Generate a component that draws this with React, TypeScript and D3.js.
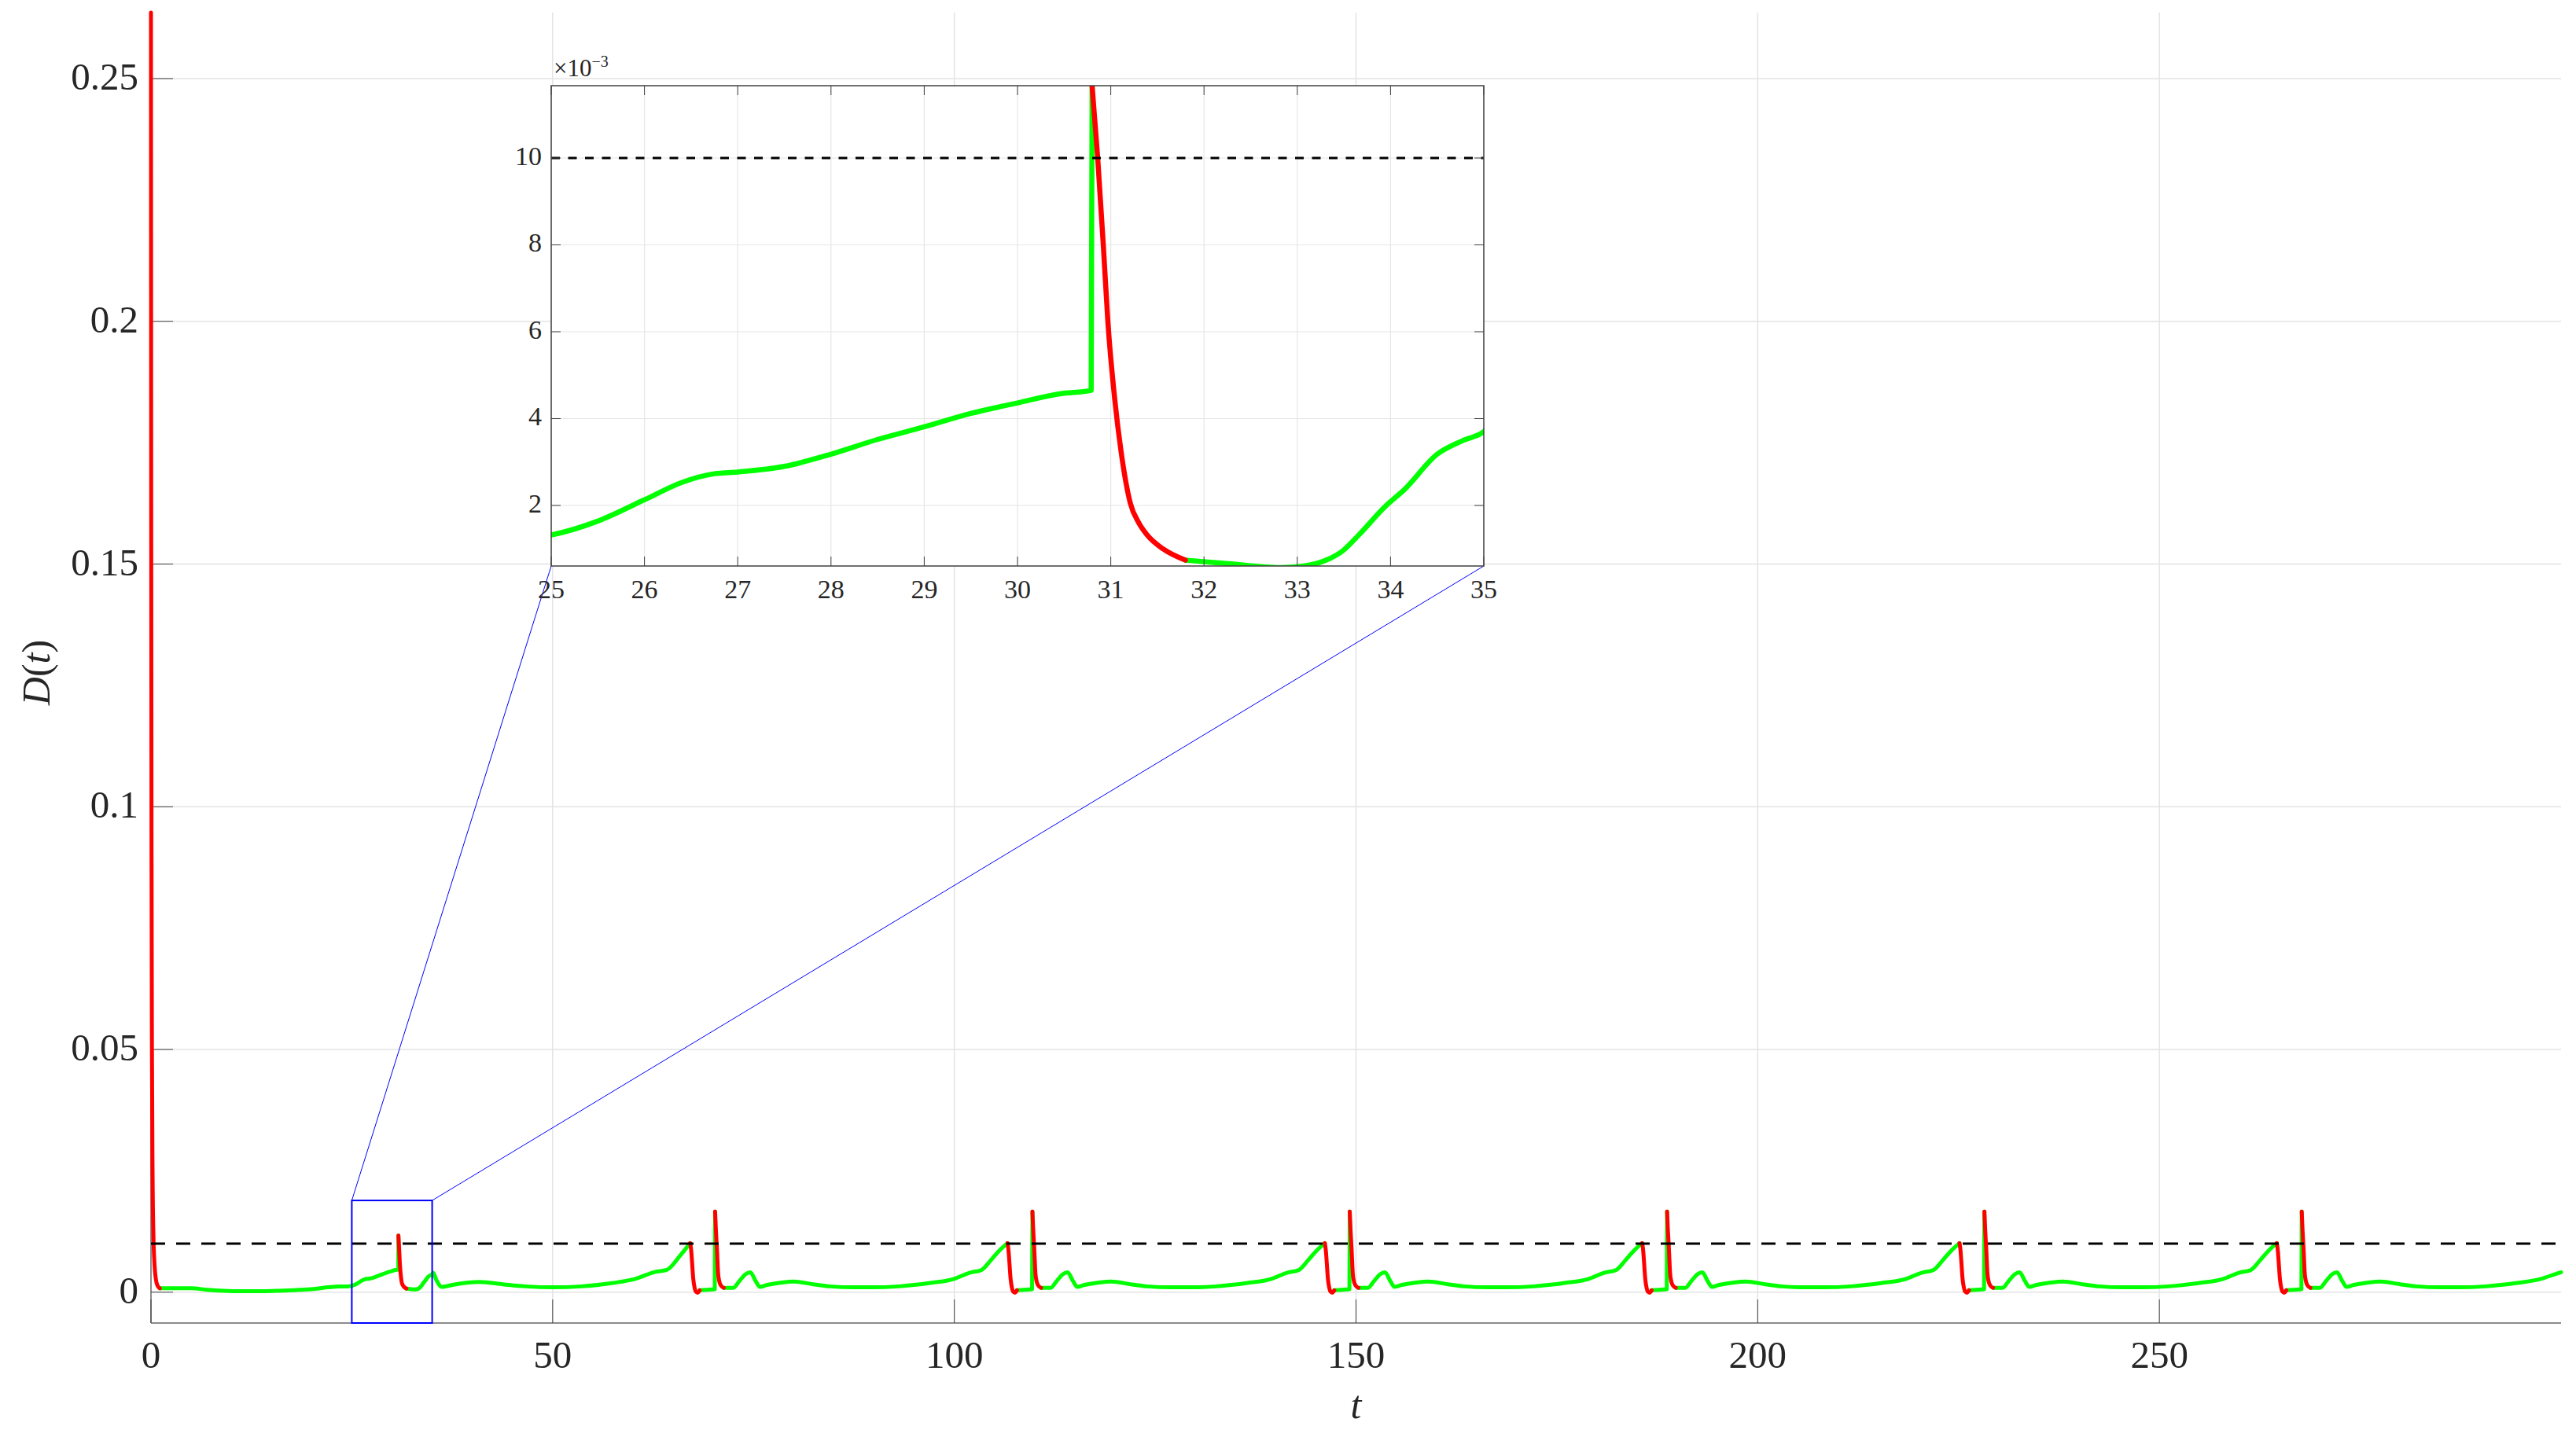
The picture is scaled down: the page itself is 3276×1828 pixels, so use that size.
import React from "react";
import * as d3 from "d3";

type Pt = [number, number];

// axis setup
const mainXDomain = [0, 300];
const mainYDomain = [-0.00635, 0.2636];
const mainXTicks = [0, 50, 100, 150, 200, 250];
const mainYTicks = [0, 0.05, 0.1, 0.15, 0.2, 0.25];
const mainYTickLabels = ["0", "0.05", "0.1", "0.15", "0.2", "0.25"];

const zoomWindow = [25, 35];
const zoomBoxTop = 0.0189;
const insetYDomain = [0.000606, 0.011665];
const insetXTicks = [25, 26, 27, 28, 29, 30, 31, 32, 33, 34, 35];
const insetYTicks = [0.002, 0.004, 0.006, 0.008, 0.01];
const insetYTickLabels = ["2", "4", "6", "8", "10"];

const threshold = 0.01;

// red = decay phases, green = the rest
const redSegments: Pt[][] = [
  [[0, 0.2636], [0.03, 0.16], [0.07, 0.09], [0.12, 0.05], [0.2, 0.024], [0.3, 0.012], [0.45, 0.0055], [0.6, 0.0028], [0.8, 0.0014], [1.1, 0.0008]],
  [[30.8, 0.01166], [30.86, 0.01], [30.92, 0.008], [30.97, 0.0062], [31.04, 0.0045], [31.11, 0.00325], [31.21, 0.00205], [31.3, 0.0016], [31.39, 0.00132], [31.56, 0.001], [31.8, 0.00074]],
  [[67.12, 0.0101], [67.25, 0.0085], [67.34, 0.0065], [67.5, 0.0028], [67.67, 0.0009], [67.83, 0.0001], [68.05, -0.0001], [68.3, 0.0004]],
  [[70.22, 0.0166], [70.33, 0.0125], [70.44, 0.0092], [70.6, 0.0038], [70.75, 0.0022], [70.9, 0.0015], [71.1, 0.0011], [71.3, 0.0009]],
  [[106.62, 0.0101], [106.75, 0.0085], [106.84, 0.0065], [107.0, 0.0028], [107.17, 0.0009], [107.33, 0.0001], [107.55, -0.0001], [107.8, 0.0004]],
  [[109.72, 0.0166], [109.83, 0.0125], [109.94, 0.0092], [110.1, 0.0038], [110.25, 0.0022], [110.4, 0.0015], [110.6, 0.0011], [110.8, 0.0009]],
  [[146.12, 0.0101], [146.25, 0.0085], [146.34, 0.0065], [146.5, 0.0028], [146.67, 0.0009], [146.83, 0.0001], [147.05, -0.0001], [147.3, 0.0004]],
  [[149.22, 0.0166], [149.33, 0.0125], [149.44, 0.0092], [149.6, 0.0038], [149.75, 0.0022], [149.9, 0.0015], [150.1, 0.0011], [150.3, 0.0009]],
  [[185.62, 0.0101], [185.75, 0.0085], [185.84, 0.0065], [186.0, 0.0028], [186.17, 0.0009], [186.33, 0.0001], [186.55, -0.0001], [186.8, 0.0004]],
  [[188.72, 0.0166], [188.83, 0.0125], [188.94, 0.0092], [189.1, 0.0038], [189.25, 0.0022], [189.4, 0.0015], [189.6, 0.0011], [189.8, 0.0009]],
  [[225.12, 0.0101], [225.25, 0.0085], [225.34, 0.0065], [225.5, 0.0028], [225.67, 0.0009], [225.83, 0.0001], [226.05, -0.0001], [226.3, 0.0004]],
  [[228.22, 0.0166], [228.33, 0.0125], [228.44, 0.0092], [228.6, 0.0038], [228.75, 0.0022], [228.9, 0.0015], [229.1, 0.0011], [229.3, 0.0009]],
  [[264.62, 0.0101], [264.75, 0.0085], [264.84, 0.0065], [265.0, 0.0028], [265.17, 0.0009], [265.33, 0.0001], [265.55, -0.0001], [265.8, 0.0004]],
  [[267.72, 0.0166], [267.83, 0.0125], [267.94, 0.0092], [268.1, 0.0038], [268.25, 0.0022], [268.4, 0.0015], [268.6, 0.0011], [268.8, 0.0009]],
];

const greenSegments: Pt[][] = [
  [[1.1, 0.0008], [3, 0.0008], [5, 0.0008], [7, 0.0005], [9, 0.0003], [11, 0.0002], [14, 0.0002], [16, 0.0003], [18.5, 0.0005], [20.5, 0.0007], [22, 0.001], [23.5, 0.0012], [24.5, 0.0012], [25, 0.00132], [25.5, 0.00164], [26, 0.00213], [26.4, 0.00253], [26.75, 0.00273], [27, 0.00277], [27.5, 0.0029], [28, 0.00318], [28.5, 0.00352], [29, 0.00381], [29.5, 0.00412], [30, 0.00436], [30.45, 0.00457], [30.79, 0.00465], [30.8, 0.01166]],
  [[31.8, 0.00074], [32.26, 0.00066], [32.82, 0.00057], [33.05, 0.0006], [33.31, 0.00074], [33.49, 0.00096], [33.66, 0.00132], [33.94, 0.00197], [34.15, 0.00237], [34.5, 0.00318], [34.78, 0.0035], [35.0, 0.0037], [35.13, 0.004], [35.5, 0.0026], [36.2, 0.0011], [37.8, 0.0016], [40.9, 0.0021], [43.9, 0.0016], [46.6, 0.0012], [50.1, 0.001], [53.6, 0.0012], [57.5, 0.0019], [60.2, 0.0027], [62.8, 0.0042], [64.2, 0.0046], [65.9, 0.0076], [67.12, 0.0101]],
  [[68.3, 0.0004], [69.2, 0.0005], [70.18, 0.0006], [70.22, 0.0166]],
  [[71.3, 0.0009], [72.5, 0.0009], [73.2, 0.0022], [74.0, 0.0037], [74.6, 0.0041], [75.3, 0.0022], [75.8, 0.0011], [76.7, 0.0015], [78.5, 0.002], [80.0, 0.0022], [82.6, 0.0016], [84.5, 0.0012], [87.5, 0.001], [89.8, 0.001], [93.1, 0.0012], [97.0, 0.0019], [99.9, 0.0027], [101.9, 0.004], [103.4, 0.0046], [104.5, 0.0065], [105.5, 0.0084], [106.62, 0.0101]],
  [[107.8, 0.0004], [108.7, 0.0005], [109.68, 0.0006], [109.72, 0.0166]],
  [[110.8, 0.0009], [112.0, 0.0009], [112.7, 0.0022], [113.5, 0.0037], [114.1, 0.0041], [114.8, 0.0022], [115.3, 0.0011], [116.2, 0.0015], [118.0, 0.002], [119.5, 0.0022], [122.1, 0.0016], [124.0, 0.0012], [127.0, 0.001], [129.3, 0.001], [132.6, 0.0012], [136.5, 0.0019], [139.4, 0.0027], [141.4, 0.004], [142.9, 0.0046], [144.0, 0.0065], [145.0, 0.0084], [146.12, 0.0101]],
  [[147.3, 0.0004], [148.2, 0.0005], [149.18, 0.0006], [149.22, 0.0166]],
  [[150.3, 0.0009], [151.5, 0.0009], [152.2, 0.0022], [153.0, 0.0037], [153.6, 0.0041], [154.3, 0.0022], [154.8, 0.0011], [155.7, 0.0015], [157.5, 0.002], [159.0, 0.0022], [161.6, 0.0016], [163.5, 0.0012], [166.5, 0.001], [168.8, 0.001], [172.1, 0.0012], [176.0, 0.0019], [178.9, 0.0027], [180.9, 0.004], [182.4, 0.0046], [183.5, 0.0065], [184.5, 0.0084], [185.62, 0.0101]],
  [[186.8, 0.0004], [187.7, 0.0005], [188.68, 0.0006], [188.72, 0.0166]],
  [[189.8, 0.0009], [191.0, 0.0009], [191.7, 0.0022], [192.5, 0.0037], [193.1, 0.0041], [193.8, 0.0022], [194.3, 0.0011], [195.2, 0.0015], [197.0, 0.002], [198.5, 0.0022], [201.1, 0.0016], [203.0, 0.0012], [206.0, 0.001], [208.3, 0.001], [211.6, 0.0012], [215.5, 0.0019], [218.4, 0.0027], [220.4, 0.004], [221.9, 0.0046], [223.0, 0.0065], [224.0, 0.0084], [225.12, 0.0101]],
  [[226.3, 0.0004], [227.2, 0.0005], [228.18, 0.0006], [228.22, 0.0166]],
  [[229.3, 0.0009], [230.5, 0.0009], [231.2, 0.0022], [232.0, 0.0037], [232.6, 0.0041], [233.3, 0.0022], [233.8, 0.0011], [234.7, 0.0015], [236.5, 0.002], [238.0, 0.0022], [240.6, 0.0016], [242.5, 0.0012], [245.5, 0.001], [247.8, 0.001], [251.1, 0.0012], [255.0, 0.0019], [257.9, 0.0027], [259.9, 0.004], [261.4, 0.0046], [262.5, 0.0065], [263.5, 0.0084], [264.62, 0.0101]],
  [[265.8, 0.0004], [266.7, 0.0005], [267.68, 0.0006], [267.72, 0.0166]],
  [[268.8, 0.0009], [270.0, 0.0009], [270.7, 0.0022], [271.5, 0.0037], [272.1, 0.0041], [272.8, 0.0022], [273.3, 0.0011], [274.2, 0.0015], [276.0, 0.002], [277.5, 0.0022], [280.1, 0.0016], [282.0, 0.0012], [285.0, 0.001], [287.3, 0.001], [290.6, 0.0012], [294.5, 0.0019], [297.4, 0.0027], [299.4, 0.0038], [300, 0.0041]],
];

const FONT = "'Liberation Serif', 'Times New Roman', serif";
const GREEN = "#00ff00";
const RED = "#ff0000";
const BLUE = "#0000ff";
const TXT = "#262626";

export default function App() {
  const W = 3276;
  const H = 1828;
  const m = { left: 192, right: 3257, top: 16, bottom: 1683 };
  const ins = { left: 701, right: 1887, top: 109, bottom: 720 };

  const x = d3.scaleLinear().domain(mainXDomain).range([m.left, m.right]);
  const y = d3.scaleLinear().domain(mainYDomain).range([m.bottom, m.top]);
  const xi = d3.scaleLinear().domain(zoomWindow).range([ins.left, ins.right]);
  const yi = d3.scaleLinear().domain(insetYDomain).range([ins.bottom, ins.top]);

  const mainLine = d3
    .line<Pt>()
    .x((d) => x(d[0]))
    .y((d) => y(d[1]))
    .curve(d3.curveMonotoneX);
  const insetLine = d3
    .line<Pt>()
    .x((d) => xi(d[0]))
    .y((d) => yi(d[1]))
    .curve(d3.curveMonotoneX);

  const inWindow = (seg: Pt[]) =>
    seg[seg.length - 1][0] >= zoomWindow[0] - 1 && seg[0][0] <= zoomWindow[1] + 1;

  const boxL = x(zoomWindow[0]);
  const boxR = x(zoomWindow[1]);
  const boxT = y(zoomBoxTop);

  return (
    <svg
      width={W}
      height={H}
      style={{ position: "absolute", left: 0, top: 0, background: "#fff" }}
      fontFamily={FONT}
    >
      <defs>
        <clipPath id="insetClip">
          <rect x={ins.left} y={ins.top} width={ins.right - ins.left} height={ins.bottom - ins.top} />
        </clipPath>
      </defs>
      <rect x={0} y={0} width={W} height={H} fill="#fff" />

      {/* main grid */}
      {mainXTicks.map((t) => (
        <line key={"gx" + t} x1={x(t)} x2={x(t)} y1={m.top} y2={m.bottom} stroke="#e3e3e3" strokeWidth={1.5} />
      ))}
      {mainYTicks.map((t) => (
        <line key={"gy" + t} x1={m.left} x2={m.right} y1={y(t)} y2={y(t)} stroke="#e3e3e3" strokeWidth={1.5} />
      ))}

      {/* main axes */}
      <line x1={m.left} x2={m.right} y1={m.bottom} y2={m.bottom} stroke="#8c8c8c" strokeWidth={2} />
      <line x1={m.left} x2={m.left} y1={m.top} y2={m.bottom} stroke="#8c8c8c" strokeWidth={2} />
      {mainXTicks.map((t) => (
        <g key={"tx" + t}>
          <line x1={x(t)} x2={x(t)} y1={m.bottom} y2={m.bottom - 30} stroke="#404040" strokeWidth={1} />
          <text x={x(t)} y={1740} textAnchor="middle" fontSize={49} fill={TXT}>
            {t}
          </text>
        </g>
      ))}
      {mainYTicks.map((t, i) => (
        <g key={"ty" + t}>
          <line x1={m.left} x2={m.left + 28} y1={y(t)} y2={y(t)} stroke="#404040" strokeWidth={1} />
          <text x={176} y={y(t) + 14} textAnchor="end" fontSize={49} fill={TXT}>
            {mainYTickLabels[i]}
          </text>
        </g>
      ))}
      <text x={(m.left + m.right) / 2} y={1804} textAnchor="middle" fontSize={50} fontStyle="italic" fill={TXT}>
        t
      </text>
      <text
        transform={`translate(63,${(m.top + m.bottom) / 2 + 6}) rotate(-90)`}
        textAnchor="middle"
        fontSize={50}
        fill={TXT}
      >
        <tspan fontStyle="italic">D</tspan>
        <tspan>(</tspan>
        <tspan fontStyle="italic">t</tspan>
        <tspan>)</tspan>
      </text>

      {/* main series */}
      {greenSegments.map((s, i) => (
        <path key={"g" + i} d={mainLine(s) || ""} fill="none" stroke={GREEN} strokeWidth={5} strokeLinejoin="round" strokeLinecap="round" />
      ))}
      {redSegments.map((s, i) => (
        <path key={"r" + i} d={mainLine(s) || ""} fill="none" stroke={RED} strokeWidth={5} strokeLinejoin="round" strokeLinecap="round" />
      ))}
      <line x1={m.left} x2={m.right} y1={y(threshold)} y2={y(threshold)} stroke="#000" strokeWidth={3} strokeDasharray="18 14" />

      {/* zoom box and connectors */}
      <rect x={boxL} y={boxT} width={boxR - boxL} height={m.bottom - boxT} fill="none" stroke={BLUE} strokeWidth={2} />
      <line x1={boxL} y1={boxT} x2={ins.left} y2={ins.bottom} stroke={BLUE} strokeWidth={1} />
      <line x1={boxR} y1={boxT} x2={ins.right} y2={ins.bottom} stroke={BLUE} strokeWidth={1} />

      {/* inset */}
      <rect x={ins.left} y={ins.top} width={ins.right - ins.left} height={ins.bottom - ins.top} fill="#fff" />
      {insetXTicks.map((t) => (
        <line key={"igx" + t} x1={xi(t)} x2={xi(t)} y1={ins.top} y2={ins.bottom} stroke="#e6e6e6" strokeWidth={1.2} />
      ))}
      {insetYTicks.map((t) => (
        <line key={"igy" + t} x1={ins.left} x2={ins.right} y1={yi(t)} y2={yi(t)} stroke="#e6e6e6" strokeWidth={1.2} />
      ))}
      <g clipPath="url(#insetClip)">
        {greenSegments.filter(inWindow).map((s, i) => (
          <path key={"ig" + i} d={insetLine(s) || ""} fill="none" stroke={GREEN} strokeWidth={6.5} strokeLinejoin="round" strokeLinecap="round" />
        ))}
        {redSegments.filter(inWindow).map((s, i) => (
          <path key={"ir" + i} d={insetLine(s) || ""} fill="none" stroke={RED} strokeWidth={6.5} strokeLinejoin="round" strokeLinecap="round" />
        ))}
        <line x1={ins.left} x2={ins.right} y1={yi(threshold)} y2={yi(threshold)} stroke="#000" strokeWidth={3} strokeDasharray="11 10.5" />
      </g>
      <rect x={ins.left} y={ins.top} width={ins.right - ins.left} height={ins.bottom - ins.top} fill="none" stroke="#404040" strokeWidth={1.5} />
      {insetXTicks.map((t) => (
        <g key={"itx" + t}>
          <line x1={xi(t)} x2={xi(t)} y1={ins.bottom} y2={ins.bottom - 12} stroke="#404040" strokeWidth={1} />
          <line x1={xi(t)} x2={xi(t)} y1={ins.top} y2={ins.top + 12} stroke="#404040" strokeWidth={1} />
          <text x={xi(t)} y={761} textAnchor="middle" fontSize={34} fill={TXT}>
            {t}
          </text>
        </g>
      ))}
      {insetYTicks.map((t, i) => (
        <g key={"ity" + t}>
          <line x1={ins.left} x2={ins.left + 12} y1={yi(t)} y2={yi(t)} stroke="#404040" strokeWidth={1} />
          <line x1={ins.right} x2={ins.right - 12} y1={yi(t)} y2={yi(t)} stroke="#404040" strokeWidth={1} />
          <text x={689} y={yi(t) + 9} textAnchor="end" fontSize={34} fill={TXT}>
            {insetYTickLabels[i]}
          </text>
        </g>
      ))}
      <text x={704} y={97} fontSize={31} fill={TXT}>
        ×10
        <tspan dy={-12} fontSize={20}>
          −3
        </tspan>
      </text>
    </svg>
  );
}
